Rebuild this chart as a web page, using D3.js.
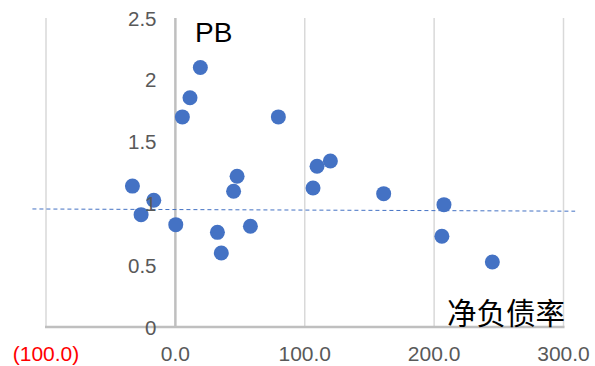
<!DOCTYPE html>
<html>
<head>
<meta charset="utf-8">
<script src="https://cdn.jsdelivr.net/npm/d3@7"></script>
<style>
  html, body { margin: 0; padding: 0; background: #fff; }
  svg { display: block; font-family: Arial, "Liberation Sans", sans-serif; }
</style>
</head>
<body>
<svg id="chart" width="595" height="366"></svg>
<script>
// Net debt ratio (%) vs PB for each company
const netDebtRatio = [19.3, 11.3, 5.4, 79.6, -33.2, -16.7, -26.5, 0.3, 47.7, 45.0,
                      32.5, 35.5, 58.0, 109.5, 119.8, 106.4, 161.0, 207.6, 206.0, 245.0];
const pbValues     = [2.10, 1.855, 1.70, 1.70, 1.14, 1.025, 0.909, 0.828, 1.22, 1.098,
                      0.766, 0.599, 0.815, 1.30, 1.343, 1.125, 1.079, 0.99, 0.734, 0.526];

// Linear trend line end points
const trendX = [-110.5, 309];
const trendY = [0.955, 0.937];

const xTicks = [-100, 0, 100, 200, 300];
const yTicks = [0, 0.5, 1, 1.5, 2, 2.5];

const svg = d3.select("#chart");

const x = d3.scaleLinear().domain([-100, 300]).range([46, 563.5]);
const y = d3.scaleLinear().domain([0, 2.5]).range([327, 18]);

// vertical gridlines
svg.append("g").selectAll("line")
  .data(xTicks.filter(d => d !== 0))
  .join("line")
  .attr("x1", d => x(d)).attr("x2", d => x(d))
  .attr("y1", y(2.5)).attr("y2", y(0))
  .attr("stroke", "#d9d9d9").attr("stroke-width", 1.5);

// axes lines
svg.append("line")
  .attr("x1", x(0)).attr("x2", x(0))
  .attr("y1", y(2.5)).attr("y2", y(0))
  .attr("stroke", "#bfbfbf").attr("stroke-width", 2.5);
svg.append("line")
  .attr("x1", x(-100) - 1).attr("x2", x(300) + 1)
  .attr("y1", y(0)).attr("y2", y(0))
  .attr("stroke", "#bfbfbf").attr("stroke-width", 2.5);

// trend line
svg.append("line")
  .attr("x1", x(trendX[0])).attr("x2", x(trendX[1]))
  .attr("y1", y(trendY[0])).attr("y2", y(trendY[1]))
  .attr("stroke", "#4472C4").attr("stroke-width", 1)
  .attr("stroke-dasharray", "4,3");

// points
const pts = netDebtRatio.map((d, i) => ({ x: d, y: pbValues[i] }));
svg.append("g").selectAll("circle")
  .data(pts)
  .join("circle")
  .attr("cx", d => x(d.x)).attr("cy", d => y(d.y))
  .attr("r", 7.5)
  .attr("fill", "#4472C4");

// y tick labels
svg.append("g").selectAll("text")
  .data(yTicks)
  .join("text")
  .attr("x", 156.5).attr("y", d => y(d) + 7.5)
  .attr("text-anchor", "end")
  .attr("font-size", 20.5)
  .attr("fill", "#595959")
  .text(d => d3.format("")(d));

// x tick labels, negatives in accounting style
const fmtX = d => d < 0 ? "(" + d3.format(".1f")(-d) + ")" : d3.format(".1f")(d);
svg.append("g").selectAll("text")
  .data(xTicks)
  .join("text")
  .attr("x", d => x(d)).attr("y", 361)
  .attr("text-anchor", "middle")
  .attr("font-size", 21)
  .attr("fill", d => d < 0 ? "#ff0000" : "#595959")
  .text(fmtX);

// axis titles
svg.append("text")
  .attr("x", 195).attr("y", 42)
  .attr("font-size", 28)
  .attr("fill", "#000")
  .text("PB");
svg.append("text")
  .attr("x", 447).attr("y", 324)
  .attr("font-size", 29.5)
  .attr("font-family", "'Noto Sans CJK SC', sans-serif")
  .attr("fill", "#000")
  .text("净负债率");
</script>
</body>
</html>
